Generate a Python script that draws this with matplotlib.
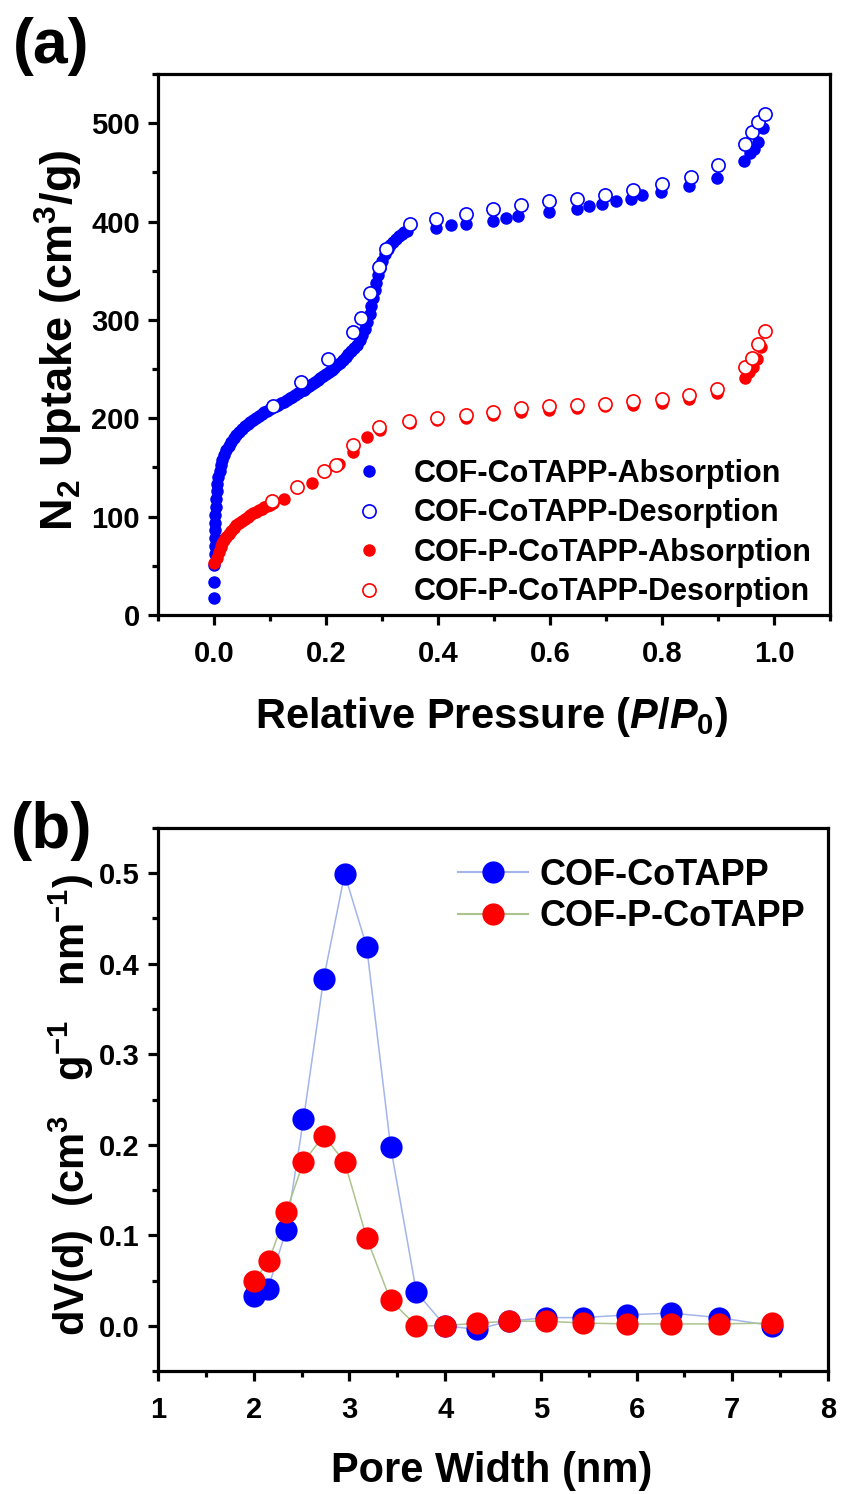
import matplotlib
matplotlib.use("Agg")
import matplotlib.pyplot as plt
from matplotlib.lines import Line2D
from matplotlib.ticker import MultipleLocator

plt.rcParams['font.family'] = ['Liberation Sans', 'DejaVu Sans']
plt.rcParams['font.weight'] = 'bold'
plt.rcParams['mathtext.fontset'] = 'custom'
plt.rcParams['mathtext.rm'] = 'Liberation Sans:bold'
plt.rcParams['mathtext.bf'] = 'Liberation Sans:bold'
plt.rcParams['mathtext.it'] = 'Liberation Sans:italic:bold'

# ---------------- Panel (a) data: N2 isotherms ----------------
cotapp_ads_p = [0.0, 0.0, 0.0, 0.001, 0.001, 0.0015, 0.002, 0.002, 0.0025, 0.003, 0.004, 0.005,
                0.006, 0.008, 0.010, 0.012, 0.015, 0.018, 0.022, 0.026, 0.030, 0.035, 0.040, 0.045,
                0.050, 0.055, 0.060, 0.065, 0.070, 0.075, 0.080, 0.085, 0.090, 0.095, 0.100, 0.105,
                0.110, 0.115, 0.120, 0.125, 0.130, 0.135, 0.140, 0.145, 0.150, 0.155, 0.160, 0.165,
                0.170, 0.175, 0.180, 0.185, 0.190, 0.195, 0.200, 0.205, 0.210, 0.215, 0.220, 0.225,
                0.230, 0.235, 0.240, 0.245, 0.250, 0.255, 0.260, 0.265, 0.270, 0.274, 0.278, 0.281,
                0.284, 0.287, 0.290, 0.293, 0.296, 0.300, 0.305, 0.310, 0.315, 0.320, 0.325, 0.330,
                0.335, 0.340, 0.345,
                0.397, 0.424, 0.450, 0.498, 0.522, 0.542, 0.599, 0.649, 0.670, 0.693, 0.717, 0.744,
                0.764, 0.799, 0.848, 0.898, 0.947, 0.957, 0.964, 0.972, 0.980]
cotapp_ads_v = [17, 34, 51, 62, 70, 78, 86, 94, 102, 110, 118, 126,
                133, 140, 146, 152, 158, 163, 168, 172, 176, 180, 183, 186,
                189, 192, 194, 196, 198, 200, 202, 204, 206, 207, 209, 211,
                212, 214, 216, 217, 219, 221, 222, 224, 226, 228, 229, 231,
                233, 235, 237, 239, 241, 243, 245, 247, 249, 251, 254, 256,
                259, 262, 265, 268, 271, 275, 280, 285, 291, 298, 306, 314,
                322, 330, 338, 346, 353, 360, 367, 372, 376, 379, 382, 385,
                387, 389, 390,
                393, 396, 397, 401, 404, 406, 410, 413, 416, 418, 421, 423,
                427, 430, 436, 444, 462, 470, 474, 481, 495]

cotapp_des_p = [0.105, 0.156, 0.203, 0.249, 0.262, 0.279, 0.294, 0.307, 0.350, 0.397, 0.450,
                0.498, 0.548, 0.599, 0.649, 0.698, 0.748, 0.800, 0.851, 0.900, 0.948, 0.960,
                0.972, 0.984]
cotapp_des_v = [212, 237, 260, 288, 302, 327, 354, 372, 398, 403, 408,
                413, 417, 421, 423, 427, 432, 438, 445, 457, 479, 491,
                501, 509]

pcotapp_ads_p = [0.0, 0.005, 0.009, 0.012, 0.015, 0.018, 0.022, 0.026, 0.030, 0.035, 0.040,
                 0.045, 0.050, 0.055, 0.060, 0.065, 0.070, 0.075, 0.080, 0.085, 0.090, 0.095,
                 0.100, 0.105, 0.125, 0.175, 0.223, 0.249, 0.273, 0.297, 0.350, 0.398, 0.450,
                 0.498, 0.548, 0.599, 0.649, 0.698, 0.748, 0.800, 0.848, 0.898, 0.948, 0.955,
                 0.962, 0.970, 0.976]
pcotapp_ads_v = [53, 58, 64, 69, 73, 76, 79, 82, 85, 88, 91,
                 94, 96, 98, 100, 102, 104, 105, 107, 108, 110, 111,
                 112, 114, 118, 134, 154, 166, 181, 188, 195, 198, 200,
                 203, 206, 208, 210, 212, 214, 216, 220, 226, 241, 247,
                 252, 260, 272]

pcotapp_des_p = [0.104, 0.149, 0.196, 0.217, 0.248, 0.295, 0.349, 0.398, 0.450, 0.498, 0.548,
                 0.599, 0.649, 0.698, 0.748, 0.800, 0.848, 0.898, 0.948, 0.960, 0.972, 0.984]
pcotapp_des_v = [116, 130, 146, 153, 173, 191, 197, 200, 203, 206, 210,
                 212, 213, 215, 218, 220, 224, 230, 252, 261, 276, 289]

labels_a = ['COF-CoTAPP-Absorption', 'COF-CoTAPP-Desorption',
            'COF-P-CoTAPP-Absorption', 'COF-P-CoTAPP-Desorption']

# ---------------- Panel (b) data: pore size distribution ----------------
cotapp_w = [2.00, 2.15, 2.34, 2.52, 2.73, 2.95, 3.18, 3.43, 3.70, 4.00, 4.33, 4.67, 5.05,
            5.44, 5.90, 6.36, 6.86, 7.42]
cotapp_dv = [0.033, 0.041, 0.106, 0.228, 0.383, 0.499, 0.419, 0.198, 0.037, 0.0, -0.004, 0.005,
             0.009, 0.009, 0.012, 0.014, 0.009, 0.0]
pcotapp_w = [2.00, 2.16, 2.34, 2.52, 2.73, 2.95, 3.18, 3.43, 3.70, 4.00, 4.33, 4.67, 5.05,
             5.44, 5.90, 6.36, 6.86, 7.42]
pcotapp_dv = [0.049, 0.072, 0.126, 0.181, 0.210, 0.181, 0.097, 0.028, 0.0, 0.0, 0.003, 0.005,
              0.005, 0.003, 0.002, 0.002, 0.002, 0.003]
labels_b = ['COF-CoTAPP', 'COF-P-CoTAPP']

BLUE = '#0000ff'
RED = '#ff0000'
BLUE_LINE = '#a3b5ea'
RED_LINE = '#abc48e'

W, H = 841, 1494
fig = plt.figure(figsize=(W / 100, H / 100), dpi=100)


def style_axes(ax):
    for s in ax.spines.values():
        s.set_linewidth(2.3)
    ax.tick_params(which='major', direction='out', length=7, width=2.3, labelsize=21)
    ax.tick_params(which='minor', direction='out', length=4, width=2.3)
    ax.tick_params(axis='x', which='major', pad=11)
    ax.tick_params(axis='y', which='major', pad=6)
    for lab in ax.get_xticklabels() + ax.get_yticklabels():
        lab.set_fontweight('bold')


# ---- (a)
axa = fig.add_axes([158 / W, 1 - 615 / H, (830 - 158) / W, (615 - 74) / H])
axa.plot(cotapp_ads_p, cotapp_ads_v, 'o', color=BLUE, ms=9, mew=0, zorder=3)
axa.plot(cotapp_des_p, cotapp_des_v, 'o', mfc='white', mec=BLUE, ms=9.5, mew=1.2, zorder=4)
axa.plot(pcotapp_ads_p, pcotapp_ads_v, 'o', color=RED, ms=9, mew=0, zorder=5)
axa.plot(pcotapp_des_p, pcotapp_des_v, 'o', mfc='white', mec=RED, ms=9.5, mew=1.2, zorder=6)
axa.set_xlim(-0.1, 1.1)
axa.set_ylim(0, 550)
axa.xaxis.set_minor_locator(MultipleLocator(0.1))
axa.yaxis.set_minor_locator(MultipleLocator(50))
axa.set_xticks([0.0, 0.2, 0.4, 0.6, 0.8, 1.0])
axa.set_xticklabels(['0.0', '0.2', '0.4', '0.6', '0.8', '1.0'])
axa.set_yticks([0, 100, 200, 300, 400, 500])
style_axes(axa)
axa.set_xlabel(r'Relative Pressure ($\mathit{P/P_0}$)', fontsize=30, fontweight='bold', va='center')
axa.xaxis.set_label_coords(0.497, -0.188)
axa.set_ylabel(r'N$_2$ Uptake (cm$^3$/g)', fontsize=32.5, fontweight='bold', va='center')
axa.yaxis.set_label_coords(-0.147, 0.508)

handles_a = [Line2D([], [], ls='none', marker='o', color=BLUE, ms=9, mew=0),
             Line2D([], [], ls='none', marker='o', mfc='white', mec=BLUE, ms=9.5, mew=1.2),
             Line2D([], [], ls='none', marker='o', color=RED, ms=9, mew=0),
             Line2D([], [], ls='none', marker='o', mfc='white', mec=RED, ms=9.5, mew=1.2)]
leg_a = axa.legend(handles_a, labels_a, loc='upper left',
                   bbox_to_anchor=(354 / W, 1 - 459 / H), bbox_transform=fig.transFigure,
                   frameon=False, fontsize=22, handlelength=1.0, handletextpad=0.94,
                   labelspacing=0.31, borderpad=0, borderaxespad=0)
for t in leg_a.get_texts():
    t.set_fontweight('bold')

fig.text(51 / W, 1 - 47 / H, '(a)', fontsize=45, fontweight='bold', ha='center', va='center')

# ---- (b)
axb = fig.add_axes([158 / W, 1 - 1371 / H, (828 - 158) / W, (1371 - 828) / H])
axb.plot(cotapp_w, cotapp_dv, '-', color=BLUE_LINE, lw=1.1, zorder=2)
axb.plot(pcotapp_w, pcotapp_dv, '-', color=RED_LINE, lw=1.1, zorder=2)
axb.plot(cotapp_w, cotapp_dv, 'o', color=BLUE, ms=16, mew=0, zorder=3)
axb.plot(pcotapp_w, pcotapp_dv, 'o', color=RED, ms=16, mew=0, zorder=4)
axb.set_xlim(1, 8)
axb.set_ylim(-0.05, 0.55)
axb.xaxis.set_major_locator(MultipleLocator(1))
axb.xaxis.set_minor_locator(MultipleLocator(0.5))
axb.set_yticks([0.0, 0.1, 0.2, 0.3, 0.4, 0.5])
axb.set_yticklabels(['0.0', '0.1', '0.2', '0.3', '0.4', '0.5'])
axb.yaxis.set_minor_locator(MultipleLocator(0.05))
style_axes(axb)
axb.set_xlabel('Pore Width (nm)', fontsize=30, fontweight='bold', va='center')
axb.xaxis.set_label_coords(0.4985, -0.185)
axb.set_ylabel(r'dV(d)  (cm$^{3}$   g$^{-1}$   nm$^{-1}$)', fontsize=30, fontweight='bold',
               va='center')
axb.yaxis.set_label_coords(-0.129, 0.49)

handles_b = [Line2D([], [], color=BLUE_LINE, lw=1.5, marker='o', mfc=BLUE, mec=BLUE, ms=16, mew=0),
             Line2D([], [], color=RED_LINE, lw=1.5, marker='o', mfc=RED, mec=RED, ms=16, mew=0)]
leg_b = axb.legend(handles_b, labels_b, loc='upper left',
                   bbox_to_anchor=(458 / W, 1 - 858 / H), bbox_transform=fig.transFigure,
                   frameon=False, fontsize=26, handlelength=1.94, handletextpad=0.33,
                   labelspacing=0.17, borderpad=0, borderaxespad=0)
for t in leg_b.get_texts():
    t.set_fontweight('bold')

fig.text(52 / W, 1 - 831 / H, '(b)', fontsize=46, fontweight='bold', ha='center', va='center')

fig.savefig('out.png', dpi=100, facecolor='white')
